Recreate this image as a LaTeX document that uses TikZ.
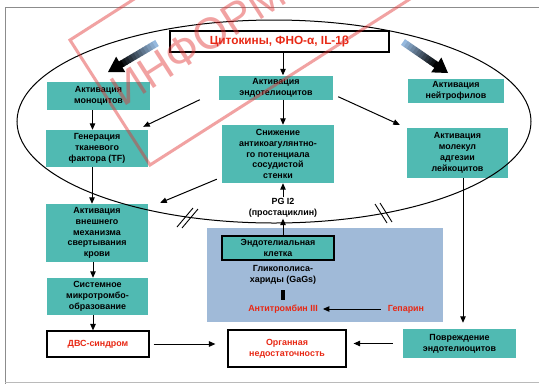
\documentclass[tikz,border=0pt]{standalone}
\usepackage{fontspec}
\setmainfont{Liberation Sans}
\usetikzlibrary{arrows.meta,calc}
\definecolor{tealbox}{RGB}{80,186,178}
\definecolor{bluearea}{RGB}{160,186,216}
\definecolor{redtxt}{RGB}{232,40,20}
\definecolor{gblue}{RGB}{150,185,222}
\definecolor{stampred}{RGB}{225,50,50}
\definecolor{framegray}{RGB}{140,140,140}
\begin{document}
\begin{tikzpicture}[x=1pt,y=-1pt,
 tb/.style={fill=tealbox, align=center, font=\bfseries\fontsize{8.9}{10.8}\selectfont, inner sep=1pt},
 wb/.style={fill=white, draw=black, line width=1.2pt, align=center, font=\bfseries\fontsize{8.9}{10.8}\selectfont, text=redtxt, inner sep=1pt},
 arr/.style={-{Triangle[length=6.5pt,width=5.5pt]}, line width=1pt},
 lbl/.style={align=center, font=\bfseries\fontsize{8.9}{10.8}\selectfont, inner sep=1pt},
 hatch/.style={line width=0.9pt}]
\useasboundingbox (0,0) rectangle (539,384);
\fill[white] (0,0) rectangle (539,384);
% frame
\draw[framegray, line width=0.8pt] (539,7) -- (5,7) -- (5,384);
\draw[framegray!60, line width=0.8pt] (5,382) -- (539,382);

% blue area
\node[fill=bluearea, minimum width=236pt, minimum height=94pt, inner sep=0pt] (area) at (325,275) {};

% boxes
\node[wb, text=redtxt, minimum width=219pt, minimum height=21pt, font=\bfseries\fontsize{11.8}{13}\selectfont] (cyt) at (279.5,41.5) {Цитокины, ФНО-α, IL-1β};
\node[tb, minimum width=103pt, minimum height=28pt] (mono) at (98.5,96) {Активация\\моноцитов};
\node[tb, minimum width=114pt, minimum height=24pt] (endo) at (276,87.5) {Активация\\эндотелиоцитов};
\node[tb, minimum width=96pt, minimum height=24pt] (neut) at (456,91) {Активация\\нейтрофилов};
\node[tb, minimum width=102pt, minimum height=37pt] (tf) at (97,148.5) {Генерация\\тканевого\\фактора (TF)};
\node[tb, minimum width=112pt, minimum height=58pt] (snizh) at (278,154) {Снижение\\антикоагулянтно-\\го потенциала\\сосудистой\\стенки};
\node[tb, minimum width=101pt, minimum height=50pt] (adh) at (457.5,153) {Активация\\молекул\\адгезии\\лейкоцитов};
\node[tb, minimum width=102pt, minimum height=58pt] (ext) at (97,233) {Активация\\внешнего\\механизма\\свертывания\\крови};
\node[tb, minimum width=101pt, minimum height=37pt] (sys) at (97.5,296.5) {Системное\\микротромбо-\\образование};
\node[wb, minimum width=102pt, minimum height=26pt] (dvs) at (98,344) {ДВС-синдром};
\node[wb, minimum width=118pt, minimum height=37pt] (organ) at (287,348.5) {Органная\\недостаточность};
\node[tb, minimum width=113pt, minimum height=29pt] (povr) at (459.5,343.5) {Повреждение\\эндотелиоцитов};
\node[tb, draw=black, line width=1.5pt, minimum width=112pt, minimum height=24pt] (cell) at (278,248) {Эндотелиальная\\клетка};
\node[lbl] (glyco) at (283,275) {Гликополиса-\\хариды (GaGs)};
\node[lbl, text=redtxt] (anti) at (283,309) {Антитромбин III};
\node[lbl, text=redtxt] (gep) at (406,309) {Гепарин};
\node[lbl] (pg) at (283,208) {PG I2\\(простациклин)};

% arrows
\draw[arr] ([xshift=3.5pt]cyt.south) -- ([xshift=3.5pt]cyt.south |- endo.north);
\draw[arr] ([xshift=7pt]endo.south) -- ([xshift=7pt]endo.south |- snizh.north);
\draw[arr] ($(endo.south west)+(-19,0)$) -- ($(tf.north east)+(-5,-3)$);
\draw[arr] ($(endo.south east)+(5,-3)$) -- ($(adh.north west)+(-7,-3)$);
\draw[arr] ([xshift=-6pt]mono.south) -- ([xshift=-6pt]mono.south |- tf.north);
\draw[arr] ([xshift=-5pt]tf.south) -- ([xshift=-5pt]tf.south |- ext.north);
\draw[arr] ($(snizh.south west)+(-5,-4)$) -- ($(ext.north east)+(12,-1)$);
\draw[arr] ([xshift=-4pt]ext.south) -- ([xshift=-4pt]ext.south |- sys.north);
\draw[arr] ([xshift=-4.5pt]sys.south) -- ([xshift=-4.5pt]sys.south |- dvs.north);
\draw[arr, shorten <=4pt, shorten >=12pt] (dvs.east) -- (dvs.east -| organ.west);
\draw[arr, shorten <=10pt, shorten >=7pt] (povr.west) -- (povr.west -| organ.east);
\draw[arr, shorten >=6pt] ([xshift=5.5pt]adh.south) -- ([xshift=5.5pt]adh.south |- povr.north);
\draw[arr] (cell.north -| pg) -- (pg.south);
\draw[arr] (pg.north) -- (pg.north |- snizh.south);
\draw[arr, shorten <=6pt, shorten >=4pt] (gep.west) -- (anti.east);
\draw[line width=3.5pt] ($(anti.north)+(0,-13.5)$) -- ($(anti.north)+(0,-3.5)$);

% gradient arrows
\coordinate (gl1) at (157,43); \coordinate (gl2) at (108,72);
\coordinate (gr1) at (403,42); \coordinate (gr2) at (448,73);
\foreach \s/\e in {gl1/gl2, gr1/gr2}{
  \foreach \i in {0,...,11}{
    \pgfmathsetmacro\a{\i*0.76/12}
    \pgfmathsetmacro\b{(\i+1)*0.76/12+0.01}
    \pgfmathtruncatemacro\p{\i*100/11}
    \draw[line width=7pt, draw=black!\p!gblue] ($(\s)!\a!(\e)$) -- ($(\s)!\b!(\e)$);
  }
  \coordinate (hb) at ($(\s)!0.74!(\e)$);
  \fill[black] ($(hb)!9pt!90:(\e)$) -- (\e) -- ($(hb)!9pt!-90:(\e)$) -- cycle;
}

% ellipse
\draw[line width=1pt] (274,121.5) ellipse [x radius=257, y radius=101.5];
% hatch marks
\draw[hatch] (177,227) -- (193,208);
\draw[hatch] (182,228) -- (198,209);
\draw[hatch] (375,204) -- (387,223);
\draw[hatch] (380,203) -- (392,222);

% watermark stamp
\begin{scope}[opacity=0.45]
\clip (0,0) rectangle (539,384);
\draw[stampred, line width=3pt] (424,-186) -- (70,40) -- (150,165) -- (504,-61);
\node[text=stampred, rotate=32.6, font=\fontsize{44}{44}\selectfont, inner sep=0pt] (wm) at (198,42) {ИНФОРМ};
\end{scope}
\end{tikzpicture}
\end{document}
